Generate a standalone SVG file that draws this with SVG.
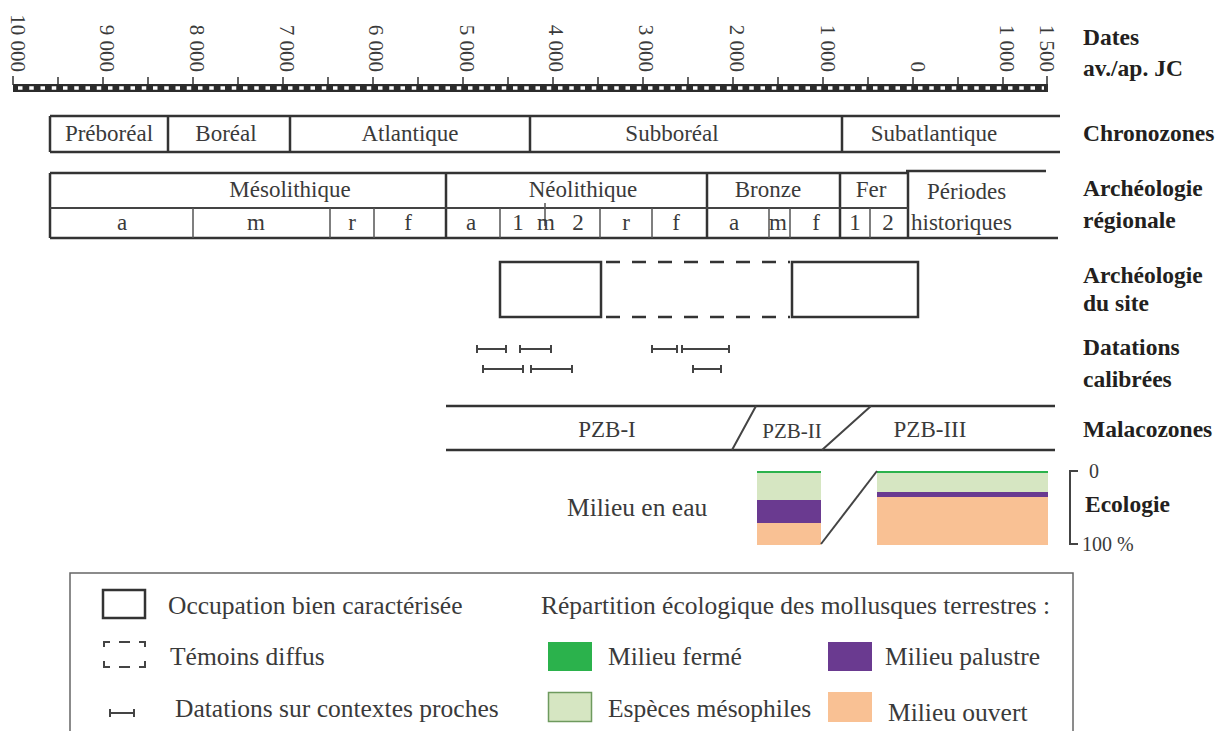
<svg xmlns="http://www.w3.org/2000/svg" width="1223" height="731" viewBox="0 0 1223 731">
<style>
.t{font-family:"Liberation Serif","Times New Roman",serif;font-size:23px;fill:#3a3a3a}
.n{font-family:"Liberation Serif","Times New Roman",serif;font-size:21px;fill:#3a3a3a}
.l{font-family:"Liberation Serif","Times New Roman",serif;font-size:25.5px;fill:#3a3a3a}
.b{font-family:"Liberation Serif","Times New Roman",serif;font-size:23.5px;font-weight:bold;fill:#231f20}
.c{text-anchor:middle}
.ln{stroke:#333;stroke-width:2.5;fill:none}
.md{stroke:#444;stroke-width:2;fill:none}
.th{stroke:#555;stroke-width:1.5;fill:none}
.tk{stroke:#333;stroke-width:1.5}
</style>
<rect width="1223" height="731" fill="#fff"/>

<g id="scale">
<rect x="13" y="84" width="1035" height="8" fill="#2b2b2b"/>
<line x1="18" y1="88" x2="1044" y2="88" stroke="#fff" stroke-width="3.5" stroke-dasharray="4.5 6.75"/>
<path class="tk" d="M13 76V85M58 77V85M103 77V85M148 77V85M193 77V85M238 77V85M283 77V85M328 77V85M373 77V85M418 77V85M463 77V85M508 77V85M553 77V85M598 77V85M643 77V85M688 77V85M733 77V85M778 77V85M823 77V85M868 77V85M913 77V85M958 77V85M1003 77V85M1047 76V92"/>
<g class="n" text-anchor="end">
<text transform="translate(11,72) rotate(90)">10 000</text>
<text transform="translate(100,72) rotate(90)">9 000</text>
<text transform="translate(190,72) rotate(90)">8 000</text>
<text transform="translate(280,72) rotate(90)">7 000</text>
<text transform="translate(369,72) rotate(90)">6 000</text>
<text transform="translate(460,72) rotate(90)">5 000</text>
<text transform="translate(549,72) rotate(90)">4 000</text>
<text transform="translate(639,72) rotate(90)">3 000</text>
<text transform="translate(730,72) rotate(90)">2 000</text>
<text transform="translate(821,72) rotate(90)">1 000</text>
<text transform="translate(911,72) rotate(90)">0</text>
<text transform="translate(1000,72) rotate(90)">1 000</text>
<text transform="translate(1040,72) rotate(90)">1 500</text>
</g>
</g>

<g id="labels">
<text class="b" x="1083" y="45">Dates</text>
<text class="b" x="1083" y="76">av./ap. JC</text>
<text class="b" x="1083" y="141">Chronozones</text>
<text class="b" x="1083" y="196">Archéologie</text>
<text class="b" x="1083" y="228">régionale</text>
<text class="b" x="1083" y="283">Archéologie</text>
<text class="b" x="1083" y="311">du site</text>
<text class="b" x="1083" y="355">Datations</text>
<text class="b" x="1083" y="387">calibrées</text>
<text class="b" x="1083" y="437">Malacozones</text>
<text class="b" x="1085" y="512">Ecologie</text>
</g>

<g id="chronozones">
<path class="ln" d="M50 116H1060M50 152H1060M50 116V152M168 116V152M290 116V152M530 116V152M842 116V152"/>
<g class="t c">
<text x="109" y="141">Préboréal</text>
<text x="226" y="141">Boréal</text>
<text x="410" y="141">Atlantique</text>
<text x="672" y="141">Subboréal</text>
<text x="934" y="141">Subatlantique</text>
</g>
</g>

<g id="archeologie-regionale">
<path class="ln" d="M50 173H908M906 171H1046M50 238H1058M50 173V238M446 173V238M707 173V238M840 173V238M908 171V238"/>
<path class="md" d="M50 208H908"/>
<path class="th" d="M193 208V238M330 208V238M374 208V238M500 208V238M600 208V238M652 208V238M769 208V238M790 208V238M870 208V238M545 203V226"/>
<g class="t c">
<text x="290" y="197">Mésolithique</text>
<text x="583" y="197">Néolithique</text>
<text x="768" y="197">Bronze</text>
<text x="871" y="197">Fer</text>
<text x="122" y="230">a</text>
<text x="256" y="230">m</text>
<text x="352" y="230">r</text>
<text x="408" y="230">f</text>
<text x="471" y="230">a</text>
<text x="518" y="230">1</text>
<text x="546" y="230">m</text>
<text x="578" y="230">2</text>
<text x="626" y="230">r</text>
<text x="676" y="230">f</text>
<text x="734" y="230">a</text>
<text x="778" y="230">m</text>
<text x="816" y="230">f</text>
<text x="855" y="230">1</text>
<text x="888" y="230">2</text>
</g>
<text class="t" x="927" y="199">Périodes</text>
<text class="t" x="911" y="230">historiques</text>
</g>

<g id="archeologie-site">
<rect class="ln" x="500" y="262" width="101" height="55"/>
<rect class="ln" x="792" y="262" width="126" height="55"/>
<path class="ln" d="M606 262H790M606 317H790" stroke-dasharray="14 12"/>
</g>

<g id="datations">
<path class="md" d="M477 345V353M477 349H506M506 345V353M520 345V353M520 349H551M551 345V353M652 345V353M652 349H677M677 345V353M682 345V353M682 349H729M729 345V353M483 365V373M483 369H523M523 365V373M531 365V373M531 369H572M572 365V373M693 365V373M693 369H721M721 365V373"/>
</g>

<g id="malacozones">
<path class="ln" d="M446 406H1055M446 450H1055"/>
<path class="md" d="M756 406L732 450M871 406L822 450"/>
<text class="t c" x="607" y="437">PZB-I</text>
<text class="t c" x="792" y="438" style="font-size:21px">PZB-II</text>
<text class="t c" x="930" y="437">PZB-III</text>
</g>

<g id="ecologie">
<text class="l" x="567" y="516">Milieu en eau</text>
<rect x="757" y="471" width="64" height="2" fill="#2bb24c"/>
<rect x="757" y="473" width="64" height="27" fill="#d6e6c2"/>
<rect x="757" y="500" width="64" height="23" fill="#6a3a90"/>
<rect x="757" y="523" width="64" height="22" fill="#f9c194"/>
<rect x="877" y="471" width="171" height="2" fill="#2bb24c"/>
<rect x="877" y="473" width="171" height="19" fill="#d6e6c2"/>
<rect x="877" y="492" width="171" height="5" fill="#6a3a90"/>
<rect x="877" y="497" width="171" height="48" fill="#f9c194"/>
<path class="md" d="M821 544L877 471"/>
<path class="md" d="M1078 471H1070V544H1078"/>
<text class="t" x="1089" y="478" style="font-size:20px">0</text>
<text class="t" x="1082" y="551" style="font-size:20px">100 %</text>
</g>

<g id="legende">
<rect x="70" y="573" width="1003" height="180" fill="none" stroke="#666" stroke-width="1.5"/>
<rect class="ln" x="103" y="590" width="42" height="28"/>
<path class="md" d="M104 647V642H110M119 642H130M139 642H145V647M104 661V667H110M119 667H130M139 667H145V661"/>
<path class="md" d="M110 709V717M110 713H134M134 709V717"/>
<text class="l" x="168" y="614">Occupation bien caractérisée</text>
<text class="l" x="170" y="665">Témoins diffus</text>
<text class="l" x="175" y="717">Datations sur contextes proches</text>
<text class="l" x="541" y="614">Répartition écologique des mollusques terrestres :</text>
<rect x="548" y="642" width="44" height="29" fill="#2bb24c"/>
<text class="l" x="608" y="665">Milieu fermé</text>
<rect x="828" y="642" width="44" height="29" fill="#6a3a90"/>
<text class="l" x="885" y="665">Milieu palustre</text>
<rect x="548.5" y="692.5" width="43" height="29" fill="#d6e6c2" stroke="#6e9a5e" stroke-width="1.5"/>
<text class="l" x="608" y="717">Espèces mésophiles</text>
<rect x="828" y="692" width="44" height="30" fill="#f9c194"/>
<text class="l" x="888" y="721">Milieu ouvert</text>
</g>
</svg>
